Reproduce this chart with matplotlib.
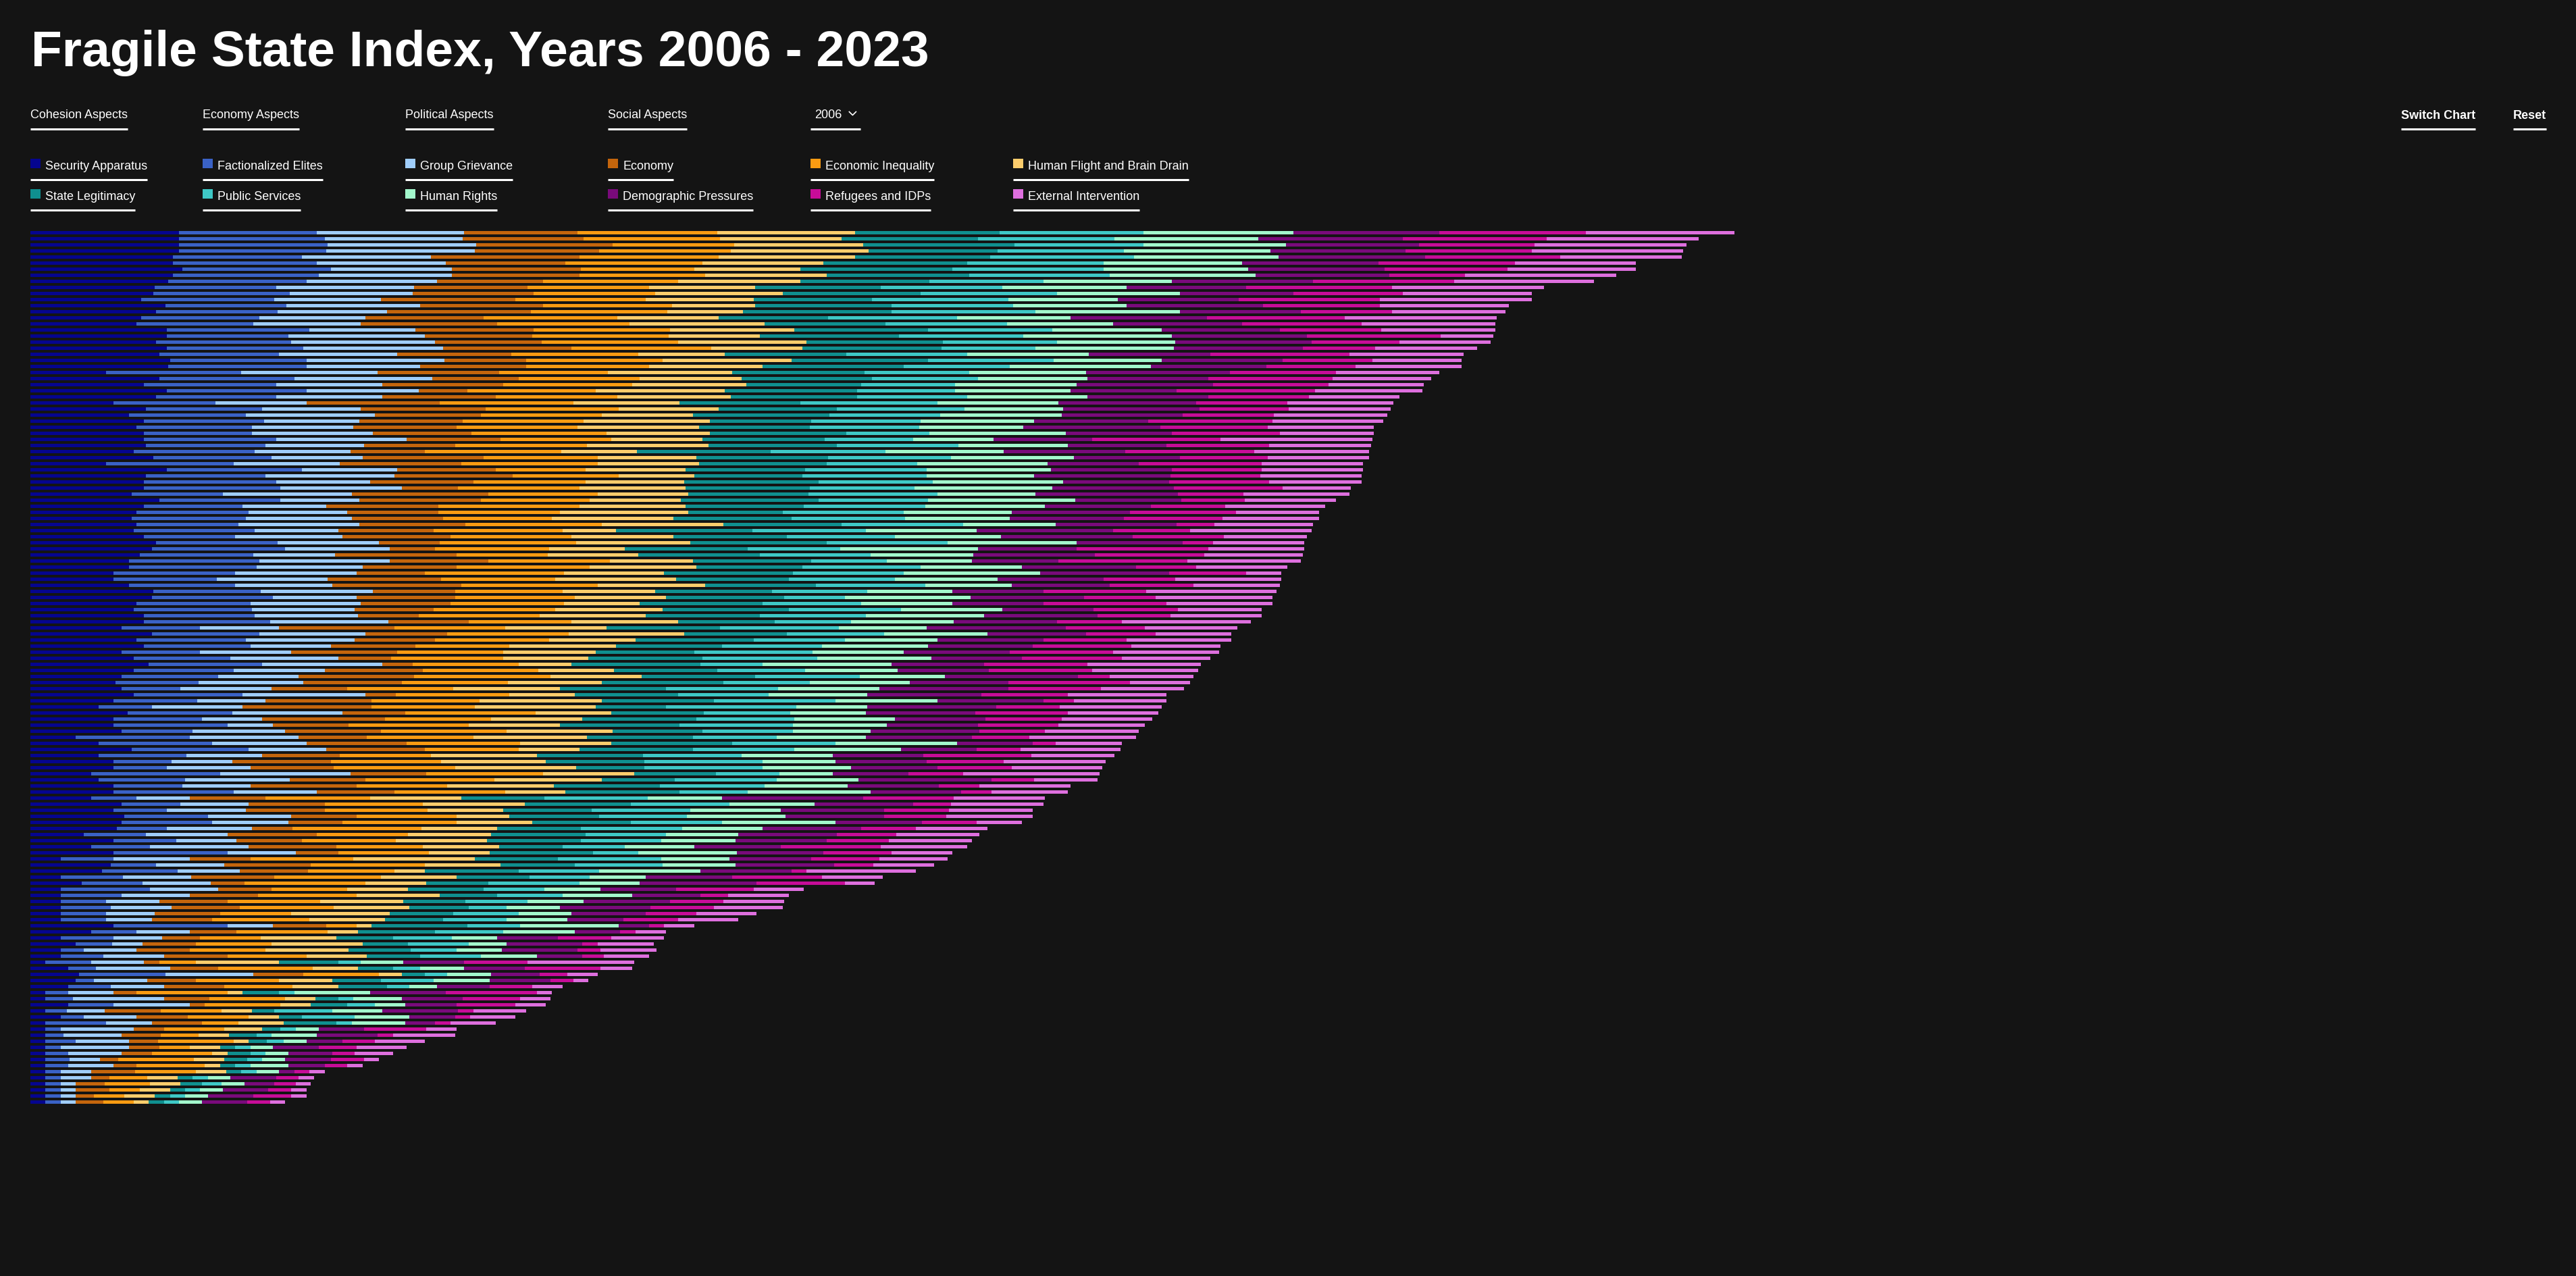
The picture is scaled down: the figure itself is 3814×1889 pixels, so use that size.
import matplotlib
matplotlib.use("Agg")
from matplotlib import pyplot as plt
from matplotlib.lines import Line2D
from matplotlib.patches import Rectangle

plt.rcParams['font.family'] = ['Liberation Sans', 'DejaVu Sans']

# indicator scores per country, sorted by total (2006)
security = [9.8, 9.8, 9.8, 9.8, 9.4, 9.4, 10.0, 9.4, 9.1, 8.2,
            8.1, 7.3, 8.9, 8.3, 7.3, 7.0, 9.0, 9.0, 8.3, 9.0,
            8.5, 9.2, 9.1, 5.0, 8.5, 7.5, 9.0, 8.3, 5.5, 7.6,
            6.5, 7.5, 7.0, 7.5, 7.5, 7.6, 6.8, 8.1, 5.0, 9.0,
            7.6, 7.5, 7.5, 6.7, 8.5, 7.5, 7.0, 6.7, 7.0, 6.8,
            7.5, 8.3, 8.0, 7.2, 6.5, 6.5, 5.5, 5.5, 6.5, 8.1,
            8.0, 7.0, 6.8, 7.5, 7.5, 6.0, 8.0, 7.0, 7.5, 6.0,
            6.8, 7.8, 6.8, 6.0, 5.6, 6.0, 6.8, 5.5, 4.5, 6.4,
            5.5, 5.5, 6.0, 3.0, 4.5, 6.7, 4.5, 5.5, 5.5, 4.0,
            4.5, 5.5, 5.5, 4.0, 6.0, 5.5, 6.2, 6.0, 5.7, 3.5,
            5.5, 4.0, 5.5, 2.0, 5.3, 4.7, 2.0, 3.4, 2.0, 2.0,
            2.0, 2.0, 2.0, 2.0, 5.5, 4.0, 2.0, 3.0, 2.0, 2.0,
            1.0, 2.5, 3.2, 3.0, 2.5, 1.0, 1.0, 2.5, 1.0, 2.0,
            1.0, 1.0, 1.0, 1.0, 1.0, 1.0, 1.0, 1.0, 1.0, 1.0,
            1.0, 1.0, 1.0, 1.0]
factionalized = [9.1, 9.6, 9.8, 9.7, 8.5, 9.5, 9.8, 9.6, 9.1, 8.0,
                 9.0, 8.8, 8.0, 8.0, 7.8, 7.7, 9.4, 8.0, 8.9, 9.0,
                 7.9, 9.0, 9.1, 8.9, 8.9, 8.7, 9.2, 7.9, 6.7, 7.7,
                 7.7, 7.9, 7.6, 7.1, 8.7, 7.9, 8.0, 7.8, 8.4, 8.9,
                 7.9, 8.7, 9.0, 6.0, 8.0, 6.5, 7.4, 7.5, 6.7, 8.0,
                 6.0, 8.0, 8.8, 7.5, 8.6, 8.4, 8.0, 6.8, 7.0, 7.1,
                 8.0, 7.5, 7.8, 7.3, 8.3, 5.2, 7.1, 7.2, 7.0, 5.2,
                 6.4, 7.5, 6.6, 6.4, 5.5, 3.9, 7.2, 5.5, 3.5, 6.9,
                 5.8, 7.5, 4.7, 7.5, 7.5, 7.7, 5.8, 3.8, 3.5, 8.5,
                 5.7, 4.5, 7.9, 3.0, 3.9, 3.5, 5.5, 6.0, 3.3, 4.1,
                 4.1, 3.9, 7.5, 3.5, 3.0, 5.0, 4.1, 4.0, 5.9, 4.0,
                 3.0, 3.3, 3.0, 3.0, 7.5, 3.0, 3.5, 2.4, 1.5, 2.8,
                 3.0, 1.8, 5.7, 1.2, 2.8, 1.5, 1.8, 3.0, 1.4, 1.5,
                 4.0, 1.0, 1.2, 2.0, 1.0, 1.5, 1.6, 1.5, 1.0, 1.0,
                 1.0, 1.0, 1.0, 1.0]
grievance = [9.7, 9.1, 9.8, 9.8, 8.5, 8.5, 8.0, 8.8, 8.6, 9.1,
             8.1, 7.0, 8.8, 7.2, 7.0, 7.1, 7.0, 9.0, 9.5, 9.2,
             7.8, 9.1, 7.5, 9.0, 9.1, 7.0, 7.4, 7.0, 6.0, 6.5,
             8.5, 6.3, 6.7, 8.0, 8.6, 6.5, 6.3, 6.0, 7.0, 6.3,
             8.5, 6.2, 8.0, 8.5, 5.2, 5.5, 6.5, 7.0, 8.0, 5.5,
             7.1, 6.7, 6.9, 5.4, 8.6, 7.0, 8.0, 7.3, 6.4, 7.4,
             5.5, 7.3, 6.8, 6.8, 7.8, 5.2, 7.0, 7.2, 5.3, 6.0,
             7.1, 7.9, 6.0, 5.3, 6.9, 6.0, 8.1, 4.5, 6.0, 7.3,
             4.0, 3.0, 6.1, 7.2, 6.2, 5.1, 5.0, 4.0, 5.5, 8.6,
             6.9, 4.5, 5.5, 3.5, 4.5, 5.2, 5.5, 5.0, 5.6, 5.4,
             4.0, 6.5, 4.5, 5.0, 4.5, 4.1, 4.5, 4.5, 4.5, 4.5,
             3.5, 4.0, 3.2, 3.0, 3.0, 3.5, 3.2, 2.0, 3.5, 4.0,
             3.5, 4.9, 5.8, 3.5, 3.5, 3.0, 6.0, 5.0, 2.5, 3.5,
             3.0, 4.8, 3.8, 3.5, 4.5, 3.5, 2.0, 3.0, 2.0, 2.0,
             1.0, 1.0, 1.0, 1.0]
economy = [7.5, 8.0, 9.0, 8.2, 9.8, 7.9, 8.5, 8.4, 7.0, 7.5,
           8.0, 8.9, 8.1, 9.5, 7.8, 9.0, 7.8, 7.1, 7.0, 8.5,
           7.5, 5.4, 7.0, 8.0, 5.7, 8.0, 3.2, 7.5, 8.8, 8.2,
           7.0, 6.8, 6.8, 6.5, 6.2, 6.0, 4.9, 8.0, 8.0, 6.5,
           7.8, 6.8, 3.7, 9.0, 8.0, 7.4, 6.0, 6.0, 7.0, 6.3,
           7.1, 4.0, 3.0, 8.0, 6.5, 6.2, 4.5, 7.5, 8.5, 5.4,
           6.5, 5.9, 5.2, 4.0, 5.3, 7.6, 5.4, 5.3, 5.6, 7.0,
           3.5, 2.0, 6.5, 7.6, 6.5, 5.0, 2.0, 7.0, 8.5, 4.1,
           8.1, 5.0, 6.3, 4.5, 6.6, 6.5, 5.1, 6.5, 5.5, 5.0,
           5.0, 7.0, 5.1, 5.0, 5.0, 5.2, 4.3, 3.6, 2.7, 5.9,
           4.3, 5.8, 2.8, 4.0, 5.7, 4.5, 5.5, 2.2, 3.5, 4.5,
           4.5, 4.5, 4.3, 4.0, 3.5, 3.1, 2.5, 3.5, 3.5, 4.2,
           1.0, 3.2, 3.3, 3.2, 4.0, 1.5, 3.0, 1.0, 3.7, 3.4,
           3.3, 2.0, 2.6, 1.9, 2.0, 2.0, 1.2, 1.5, 2.9, 1.2,
           1.9, 2.2, 1.2, 1.8]
inequality = [9.2, 9.0, 8.0, 8.7, 9.2, 9.0, 7.5, 8.3, 8.9, 8.0,
              8.0, 8.6, 8.5, 9.0, 8.8, 8.7, 9.0, 9.0, 9.0, 9.2,
              8.4, 9.0, 8.1, 7.2, 8.0, 8.5, 8.5, 8.0, 8.8, 8.8,
              8.0, 8.0, 8.0, 8.9, 7.3, 8.7, 9.0, 7.5, 9.0, 5.9,
              7.0, 7.4, 8.0, 7.2, 7.2, 9.3, 8.0, 7.2, 9.0, 8.5,
              8.0, 9.0, 7.5, 6.0, 8.0, 8.8, 9.2, 7.5, 9.0, 7.1,
              7.9, 7.5, 8.0, 8.0, 6.8, 7.3, 8.0, 7.5, 6.2, 7.0,
              7.4, 7.0, 7.6, 9.0, 7.0, 7.0, 7.5, 7.1, 6.8, 8.6,
              7.0, 7.9, 8.3, 7.0, 7.5, 6.2, 6.0, 7.3, 8.0, 7.7,
              8.5, 6.0, 7.3, 6.9, 6.5, 6.8, 6.6, 7.5, 8.5, 6.0,
              6.2, 5.7, 6.0, 6.8, 7.5, 5.7, 7.0, 8.0, 5.0, 6.5,
              6.1, 6.2, 4.7, 6.4, 2.0, 6.0, 4.0, 5.0, 5.0, 5.2,
              2.4, 6.2, 5.0, 5.5, 4.5, 6.0, 5.0, 5.0, 4.0, 4.0,
              2.4, 4.0, 2.5, 5.0, 2.0, 4.0, 5.0, 4.5, 4.0, 2.5,
              3.0, 2.0, 2.0, 2.0]
flight = [9.1, 8.0, 8.5, 9.1, 9.0, 8.0, 7.0, 8.0, 8.1, 7.0,
          8.4, 7.1, 5.5, 5.0, 6.7, 8.9, 8.2, 6.0, 8.5, 6.0,
          5.7, 8.5, 7.5, 8.2, 6.7, 7.5, 8.5, 7.5, 7.0, 6.6,
          6.0, 8.3, 8.0, 6.8, 6.0, 8.0, 5.0, 6.5, 6.7, 6.6,
          5.0, 6.5, 7.0, 6.0, 6.0, 7.0, 8.5, 8.0, 8.0, 3.5,
          6.7, 7.5, 5.0, 6.0, 5.5, 7.0, 6.6, 8.0, 7.1, 6.1,
          6.0, 5.0, 7.1, 7.0, 7.0, 6.7, 7.6, 5.7, 7.0, 6.1,
          5.6, 3.5, 5.0, 6.0, 6.2, 7.0, 4.3, 8.1, 8.0, 5.0,
          6.0, 6.0, 7.0, 7.5, 6.0, 4.0, 7.0, 6.9, 8.0, 6.0,
          7.1, 7.0, 4.0, 6.0, 6.7, 5.0, 3.5, 5.0, 5.0, 5.5,
          6.0, 5.0, 4.0, 8.0, 5.0, 2.0, 5.0, 4.0, 4.0, 5.5,
          5.5, 5.0, 6.5, 5.0, 1.0, 2.0, 5.0, 6.0, 5.5, 4.0,
          5.5, 3.0, 1.5, 3.5, 3.0, 1.0, 2.0, 2.0, 2.0, 2.0,
          3.0, 2.5, 2.0, 1.0, 2.0, 1.0, 2.0, 1.0, 2.0, 2.0,
          2.0, 2.0, 2.0, 1.0]
legitimacy = [9.5, 9.0, 10.0, 8.5, 8.9, 9.5, 10.0, 9.4, 8.5, 8.3,
              9.1, 7.8, 9.0, 9.8, 7.2, 8.0, 8.8, 9.2, 9.0, 9.2,
              8.0, 9.0, 9.3, 8.7, 8.6, 7.6, 8.7, 8.3, 8.0, 7.8,
              9.0, 6.7, 7.3, 9.0, 8.1, 8.5, 8.8, 8.7, 8.4, 7.9,
              7.1, 8.9, 8.2, 7.9, 9.1, 7.8, 6.2, 7.8, 7.8, 9.0,
              7.5, 9.0, 8.1, 8.0, 7.8, 7.0, 8.5, 7.4, 7.3, 7.7,
              7.8, 8.1, 8.3, 7.5, 6.4, 7.5, 6.8, 7.8, 7.0, 6.5,
              7.5, 8.5, 6.8, 7.5, 8.0, 7.0, 6.8, 7.4, 4.6, 6.1,
              7.5, 7.9, 5.9, 7.0, 8.0, 7.5, 7.0, 6.5, 4.5, 5.4,
              4.8, 7.0, 7.5, 5.5, 7.0, 5.8, 5.9, 6.5, 5.5, 6.2,
              6.2, 4.2, 6.8, 5.5, 4.9, 6.2, 4.8, 4.1, 5.0, 3.8,
              4.1, 3.9, 4.2, 3.8, 6.3, 5.1, 3.7, 3.0, 4.1, 3.5,
              3.9, 2.3, 1.5, 3.2, 3.2, 2.4, 1.5, 2.4, 1.5, 1.5,
              3.5, 1.2, 1.8, 1.2, 1.0, 1.5, 1.5, 1.0, 1.0, 1.0,
              1.4, 1.0, 1.0, 1.0]
services = [9.5, 9.0, 8.5, 8.3, 9.5, 9.0, 10.0, 9.3, 7.5, 8.0,
            9.0, 9.0, 8.0, 9.5, 8.5, 8.0, 8.2, 8.2, 7.5, 6.2,
            8.0, 8.3, 7.0, 6.9, 7.0, 6.2, 6.5, 7.3, 9.0, 8.4,
            7.3, 7.2, 7.2, 5.5, 5.8, 8.0, 7.6, 8.1, 6.0, 8.0,
            8.2, 7.5, 6.9, 8.5, 7.2, 8.0, 8.0, 7.5, 8.0, 7.5,
            7.1, 8.0, 6.1, 7.3, 5.0, 7.8, 7.3, 7.0, 7.2, 6.3,
            4.0, 6.5, 7.4, 7.0, 5.0, 7.8, 6.4, 6.0, 6.6, 7.8,
            7.6, 4.1, 5.8, 6.9, 5.7, 7.4, 6.0, 8.0, 8.6, 5.7,
            6.5, 7.5, 6.0, 5.5, 6.8, 6.7, 6.5, 7.8, 7.8, 4.2,
            6.7, 6.9, 4.5, 6.8, 6.5, 6.5, 5.8, 6.0, 6.7, 5.3,
            5.3, 4.1, 3.0, 6.8, 5.8, 5.3, 4.0, 6.0, 4.0, 4.3,
            4.1, 2.5, 4.3, 4.2, 3.5, 4.5, 3.9, 4.0, 3.0, 4.0,
            1.5, 1.8, 1.5, 3.5, 1.5, 1.0, 1.0, 1.8, 3.8, 3.5,
            1.0, 1.0, 1.0, 1.1, 1.0, 1.0, 1.0, 1.0, 1.0, 1.0,
            1.3, 1.0, 1.0, 1.0]
rights = [9.9, 9.5, 9.4, 9.7, 9.5, 9.1, 9.5, 9.6, 8.5, 8.2,
          8.1, 7.2, 7.5, 9.5, 7.5, 7.0, 7.2, 9.8, 7.8, 9.1,
          8.0, 7.1, 9.3, 7.7, 7.2, 8.0, 7.6, 7.9, 8.0, 6.5,
          8.0, 7.5, 6.9, 9.0, 5.3, 7.2, 7.8, 8.1, 8.6, 8.2,
          7.1, 8.6, 9.1, 6.5, 9.7, 7.9, 7.1, 6.9, 6.1, 7.3,
          7.0, 8.5, 9.1, 6.8, 5.6, 6.7, 9.0, 6.8, 5.7, 5.6,
          8.3, 6.0, 6.7, 7.8, 6.8, 5.8, 6.8, 6.1, 7.0, 6.0,
          7.5, 8.5, 6.1, 5.6, 6.6, 6.7, 6.5, 6.7, 4.7, 5.0,
          6.6, 6.2, 5.1, 5.9, 8.0, 7.0, 6.0, 4.8, 5.8, 3.5,
          5.4, 5.5, 8.1, 4.9, 5.6, 6.0, 6.5, 7.5, 5.3, 4.8,
          4.9, 4.6, 6.5, 4.5, 4.8, 6.7, 3.7, 4.0, 3.7, 4.6,
          3.7, 3.5, 3.5, 4.0, 6.5, 4.7, 3.0, 2.5, 3.0, 3.7,
          2.8, 2.9, 2.9, 3.7, 1.8, 5.0, 3.2, 2.0, 3.3, 3.6,
          3.5, 1.5, 3.0, 1.5, 1.5, 1.5, 1.5, 2.5, 1.5, 1.5,
          1.5, 1.5, 1.5, 1.5]
demographic = [9.6, 9.5, 8.8, 8.9, 9.7, 9.0, 9.0, 8.8, 9.3, 7.9,
               7.5, 8.0, 9.0, 8.0, 9.0, 8.5, 7.8, 8.9, 9.0, 8.5,
               8.0, 8.0, 7.6, 9.5, 8.0, 9.0, 7.0, 8.0, 9.1, 9.0,
               8.0, 7.5, 9.0, 7.0, 6.5, 6.5, 8.0, 7.0, 6.0, 8.0,
               9.0, 7.0, 8.0, 9.4, 7.0, 7.0, 7.8, 7.5, 8.0, 9.0,
               8.7, 7.0, 6.5, 8.0, 5.7, 7.5, 8.5, 7.0, 6.5, 6.0,
               7.5, 6.0, 6.0, 7.5, 6.8, 9.2, 6.5, 7.0, 6.9, 7.0,
               6.0, 6.1, 6.0, 8.8, 6.5, 8.5, 7.5, 7.0, 8.5, 7.2,
               6.0, 6.0, 7.2, 7.0, 5.0, 5.0, 6.0, 6.0, 5.7, 5.0,
               8.8, 6.0, 6.0, 9.3, 6.5, 6.8, 6.5, 5.7, 6.5, 6.5,
               6.0, 5.7, 5.7, 5.4, 6.5, 6.0, 5.7, 7.7, 5.0, 4.5,
               5.7, 6.0, 4.9, 3.7, 2.0, 3.0, 4.0, 5.0, 5.0, 3.0,
               4.0, 4.0, 3.2, 4.0, 3.5, 5.0, 4.0, 3.4, 5.0, 3.0,
               2.0, 3.0, 4.0, 2.4, 3.0, 2.9, 3.0, 2.4, 1.0, 3.0,
               2.0, 3.0, 3.0, 3.0]
refugees = [9.7, 9.5, 7.6, 8.3, 8.9, 9.0, 8.1, 5.0, 9.3, 9.6,
            7.2, 9.3, 7.7, 6.0, 9.1, 7.9, 6.7, 8.8, 5.8, 4.8,
            9.2, 5.9, 5.9, 7.0, 8.2, 7.6, 9.1, 6.6, 6.0, 5.9,
            6.0, 8.2, 7.1, 7.1, 8.5, 6.8, 8.5, 5.8, 8.1, 5.9,
            5.9, 6.6, 7.2, 4.3, 4.2, 4.9, 7.0, 6.5, 2.5, 5.1,
            6.0, 2.0, 8.7, 7.2, 8.5, 4.0, 5.1, 4.7, 5.5, 6.8,
            4.7, 8.1, 5.6, 4.8, 4.3, 5.2, 4.6, 5.5, 6.5, 6.8,
            6.6, 6.8, 6.8, 2.1, 8.0, 6.1, 5.7, 2.0, 4.2, 6.1,
            5.0, 5.3, 4.3, 3.8, 1.5, 2.9, 7.1, 5.1, 4.9, 3.6,
            2.8, 2.7, 2.0, 6.0, 2.5, 4.3, 4.1, 3.6, 3.6, 3.9,
            4.1, 6.6, 4.5, 4.5, 2.6, 1.0, 5.9, 5.8, 5.1, 1.8,
            3.5, 4.2, 3.3, 3.6, 1.0, 1.0, 3.5, 1.0, 1.5, 1.4,
            4.2, 5.0, 1.8, 1.5, 2.8, 6.0, 3.8, 3.9, 1.0, 1.0,
            1.0, 4.1, 1.0, 2.1, 2.5, 1.5, 2.2, 1.5, 1.0, 1.5,
            1.4, 1.5, 2.5, 1.5]
external = [9.8, 10.0, 10.0, 10.0, 8.0, 8.0, 8.5, 10.0, 9.2, 10.0,
            8.5, 10.0, 8.5, 7.5, 10.0, 8.8, 7.5, 3.5, 6.0, 6.7,
            7.5, 5.9, 7.0, 6.8, 6.5, 6.3, 7.1, 6.0, 7.0, 6.7,
            7.5, 7.3, 7.0, 6.2, 10.0, 6.7, 7.6, 6.7, 6.7, 6.7,
            6.7, 6.1, 4.5, 7.0, 6.0, 6.6, 5.5, 6.4, 6.5, 8.0,
            5.5, 6.0, 6.3, 6.5, 7.5, 6.0, 2.3, 7.0, 5.7, 8.6,
            7.7, 7.0, 5.5, 6.0, 8.5, 6.1, 5.0, 6.9, 5.9, 7.0,
            5.8, 7.5, 7.0, 5.5, 4.0, 5.5, 6.5, 6.1, 6.7, 6.0,
            6.0, 5.7, 6.2, 7.0, 4.4, 6.6, 5.5, 6.7, 6.0, 9.0,
            4.2, 6.0, 5.0, 6.0, 6.1, 5.5, 5.7, 3.0, 4.7, 5.5,
            5.5, 5.7, 4.0, 4.5, 4.0, 7.2, 4.0, 2.0, 3.3, 4.0,
            4.0, 4.5, 4.0, 4.0, 2.0, 2.0, 3.5, 3.7, 3.7, 3.0,
            7.0, 2.1, 2.0, 1.0, 2.0, 1.0, 2.0, 2.0, 3.5, 3.0,
            3.0, 2.0, 4.1, 3.3, 3.3, 2.5, 1.0, 1.0, 1.0, 1.0,
            1.0, 1.0, 1.0, 1.0]

labels = ['Security Apparatus', 'Factionalized Elites', 'Group Grievance',
          'Economy', 'Economic Inequality', 'Human Flight and Brain Drain',
          'State Legitimacy', 'Public Services', 'Human Rights',
          'Demographic Pressures', 'Refugees and IDPs', 'External Intervention']
colors = ['#05058f', '#3a62c6', '#9fcdfb', '#c4650c', '#fa9b12', '#fdcd6c',
          '#0f8f8f', '#3ec8c6', '#a2f8cc', '#790a7b', '#c70c98', '#de6fde']
series = [security, factionalized, grievance, economy, inequality, flight,
          legitimacy, services, rights, demographic, refugees, external]
aspects = ['Cohesion Aspects', 'Economy Aspects', 'Political Aspects', 'Social Aspects']
year = '2006'

W, H = 3814, 1890
BG = '#141414'
PX_PER_UNIT = 22.45
COLS = [45, 300, 600, 900, 1200, 1500]


def fx(x):
    return x / W


def fy(y):
    return 1 - y / H


fig = plt.figure(figsize=(W / 100, H / 100), dpi=100, facecolor=BG)
renderer = fig.canvas.get_renderer()


def underlined(x, y, s, size=13, weight='normal', line_x0=None, line_y=None, extra=0):
    t = fig.text(fx(x), fy(y), s, color='white', fontsize=size, fontweight=weight,
                 ha='left', va='baseline')
    bb = t.get_window_extent(renderer)
    x0 = x if line_x0 is None else line_x0
    fig.add_artist(Line2D([fx(x0), fx(bb.x1 + extra)], [fy(line_y), fy(line_y)],
                          color='white', linewidth=2.2, solid_capstyle='butt'))
    return bb


# title
fig.text(fx(46), fy(98), 'Fragile State Index, Years 2006 - 2023', color='white',
         fontsize=54, fontweight='bold', ha='left', va='baseline')

# top menu
for x, a in zip(COLS, aspects):
    underlined(x, 175, a, line_y=191.5)
bb = underlined(1206, 175, year, line_x0=1200, line_y=191.5, extra=28)
cx = bb.x1 + 16
fig.add_artist(Line2D([fx(cx - 5), fx(cx), fx(cx + 5)], [fy(166.5), fy(171.5), fy(166.5)],
                      color='white', linewidth=1.2))
underlined(3555, 176, 'Switch Chart', weight='bold', line_y=191.5)
underlined(3721, 176, 'Reset', weight='bold', line_y=191.5)

# legend
for i, (lab, c) in enumerate(zip(labels, colors)):
    x0 = COLS[i % 6]
    base = 251 + 45 * (i // 6)
    fig.add_artist(Rectangle((fx(x0), fy(base - 1)), 15 / W, 14 / H,
                             facecolor=c, edgecolor='none', transform=fig.transFigure))
    underlined(x0 + 22, base, lab, line_x0=x0, line_y=267 + 45 * (i // 6))

# stacked bars
top, bottom = 340.8, 1636.8
width_px = 3700
ax = fig.add_axes([fx(45), fy(bottom), width_px / W, (bottom - top) / H])
ax.set_facecolor('none')
n = len(security)
rows = list(range(n))
left = [0.0] * n
for vals, c in zip(series, colors):
    ax.barh(rows, vals, left=left, height=0.56, color=c, linewidth=0)
    left = [l + v for l, v in zip(left, vals)]
ax.set_xlim(0, width_px / PX_PER_UNIT)
ax.set_ylim(n - 0.5, -0.5)
ax.axis('off')

fig.savefig('out.png', dpi=100, facecolor=BG)
